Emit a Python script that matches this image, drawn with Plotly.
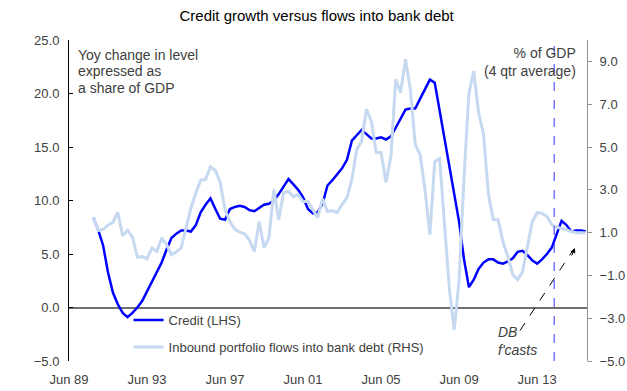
import pandas as pd
import plotly.graph_objects as go

# Quarterly observations, Sep 1990 .. Dec 2015
quarters = [p.end_time.strftime("%Y-%m-%d") for p in pd.period_range("1990Q3", "2015Q4", freq="Q")]

credit_lhs = [
    8.4, 7.2, 5.8, 3.3, 1.4, 0.3, -0.5, -0.9, -0.5, 0.0,
    0.6, 1.5, 2.3, 3.2, 4.2, 5.4, 6.5, 6.9, 7.2, 7.2,
    7.1, 7.7, 8.9, 9.6, 10.2, 9.2, 8.3, 8.2, 9.2, 9.4,
    9.5, 9.4, 9.1, 9.0, 9.3, 9.6, 9.7, 10.0, 10.6, 11.3,
    12.0, 11.5, 11.0, 10.3, 9.2, 8.8, 8.9, 9.7, 11.4, 11.9,
    12.4, 13.0, 13.8, 15.6, 16.1, 16.6, 16.2, 15.8, 15.8, 15.9,
    15.7, 16.0, 16.8, 17.7, 18.5, 18.6, 18.6, 19.5, 20.4, 21.3,
    21.0, 18.4, 15.9, 13.3, 10.6, 8.0, 4.5, 1.9, 2.6, 3.6,
    4.2, 4.5, 4.5, 4.2, 4.1, 4.3, 4.6, 5.2, 5.3, 4.9,
    4.4, 4.1, 4.5, 5.0, 5.6, 6.9, 8.1, 7.7, 7.1, 7.2,
    7.2, 7.1,
]

flows_rhs = [
    1.70, 1.10, 1.15, 1.35, 1.48, 1.95, 0.85, 1.10, 0.80, -0.15,
    -0.12, -0.22, 0.28, 0.12, 0.75, 0.45, -0.04, 0.10, 0.28, 1.25,
    2.15, 2.85, 3.45, 3.48, 4.08, 3.90, 3.34, 2.07, 1.51, 1.15,
    1.02, 0.95, 0.65, 0.11, 1.51, 0.29, 0.76, 3.01, 1.60, 2.87,
    2.92, 2.68, 2.78, 2.45, 2.45, 2.07, 1.70, 2.59, 1.98, 2.03,
    1.93, 2.31, 2.63, 3.48, 4.88, 5.26, 6.76, 6.19, 4.74, 4.74,
    3.34, 4.55, 8.16, 7.55, 9.10, 7.69, 5.12, 4.65, 3.01, 0.90,
    4.32, 4.46, 1.28, -1.67, -3.55, -1.20, 3.60, 7.50, 8.55, 6.60,
    5.60, 2.80, 1.60, 1.60, 0.57, -0.13, -0.97, -1.21, -0.83, 0.34,
    1.51, 1.93, 1.90, 1.75, 1.37, 1.25, 1.20, 1.14, 1.05, 0.99,
    0.99, 0.99,
]

x_tick_vals = ["1989-06-30", "1993-06-30", "1997-06-30", "2001-06-30",
               "2005-06-30", "2009-06-30", "2013-06-30"]
x_tick_text = ["Jun 89", "Jun 93", "Jun 97", "Jun 01", "Jun 05", "Jun 09", "Jun 13"]
left_ticks = [-5, 0, 5, 10, 15, 20, 25]
right_ticks = [-5, -3, -1, 1, 3, 5, 7, 9]
forecast_start = "2014-05-15"
lhs_note = ["Yoy change in level", "expressed as", "a share of GDP"]

FONT = "Liberation Sans, Arial, sans-serif"
GREY_TXT = "#404040"

fig = go.Figure()
fig.add_trace(go.Scatter(
    x=quarters, y=flows_rhs, yaxis="y2", mode="lines",
    name="Inbound portfolio flows into bank debt (RHS)",
    line=dict(color="#C6D9F1", width=3), legendgroup="b", legendrank=2,
))
fig.add_trace(go.Scatter(
    x=quarters, y=credit_lhs, yaxis="y", mode="lines",
    name="Credit (LHS)",
    line=dict(color="#0000FF", width=2.5), legendgroup="a", legendrank=1,
))

fig.update_layout(
    width=627, height=391,
    margin=dict(l=69, r=40, t=40, b=30, autoexpand=False),
    paper_bgcolor="white", plot_bgcolor="white",
    font=dict(family=FONT, size=13, color=GREY_TXT),
    title=dict(text="Credit growth versus flows into bank debt",
               x=0.505, xanchor="center", y=0.972, yanchor="top",
               font=dict(family=FONT, size=15, color="#000000")),
    showlegend=True,
    legend=dict(x=0.115, y=0.174, xanchor="left", yanchor="top",
                bgcolor="rgba(0,0,0,0)", font=dict(size=13, color=GREY_TXT),
                tracegroupgap=7, traceorder="grouped"),
    xaxis=dict(type="date", range=["1989-06-30", "2016-01-20"],
               tickvals=x_tick_vals, ticktext=x_tick_text,
               showgrid=False, showline=False, ticks="", zeroline=False,
               automargin=False, ticklabelstandoff=9,
               tickfont=dict(size=13, color=GREY_TXT)),
    yaxis=dict(range=[-5, 25], tickvals=left_ticks, tickformat=".1f",
               showgrid=False, showline=True, linecolor="#000000", linewidth=1,
               ticks="inside", ticklen=4, tickcolor="#000000",
               zeroline=True, zerolinecolor="#707070", zerolinewidth=1.5,
               automargin=False,
               tickfont=dict(size=13, color=GREY_TXT), ticklabelstandoff=6),
    yaxis2=dict(range=[-5, 10], tickvals=right_ticks, tickformat=".1f",
                overlaying="y", side="right", showgrid=False,
                showline=True, linecolor="#909090", linewidth=1,
                ticks="outside", ticklen=4, tickcolor="#909090",
                zeroline=False, automargin=False,
                tickfont=dict(size=13, color=GREY_TXT),
                ticklabelstandoff=5),
)

# forecast divider
fig.add_shape(type="line", xref="x", yref="paper", x0=forecast_start, x1=forecast_start,
              y0=0, y1=0.985, line=dict(color="#3333FF", width=1, dash="dash"))
# dashed pointer
fig.add_shape(type="line", xref="paper", yref="paper", x0=0.8707, y0=0.095, x1=0.972, y1=0.343,
              line=dict(color="#000000", width=1, dash="dash"))
fig.add_annotation(xref="paper", yref="paper", x=0.9768, y=0.352, ax=-4, ay=9,
                   text="", showarrow=True, arrowhead=2, arrowsize=1, arrowwidth=1,
                   arrowcolor="#000000")

for i, line_text in enumerate(lhs_note):
    fig.add_annotation(xref="paper", yref="paper", x=0.0135, y=0.985 - i * 0.0515,
                       xanchor="left", yanchor="top", align="left", showarrow=False,
                       text=line_text, font=dict(size=14, color=GREY_TXT))
fig.add_annotation(xref="paper", yref="paper", x=0.982, y=0.99, xanchor="right", yanchor="top",
                   align="right", showarrow=False,
                   text="% of GDP<br>(4 qtr average)",
                   font=dict(size=14, color=GREY_TXT))
fig.add_annotation(xref="paper", yref="paper", x=0.825, y=0.12, xanchor="left", yanchor="top",
                   align="left", showarrow=False,
                   text="<i>DB<br>f'casts</i>",
                   font=dict(size=14, color=GREY_TXT))

fig.write_html("out.html", post_script="document.body.style.margin='0px';",
               config={"displayModeBar": False})
